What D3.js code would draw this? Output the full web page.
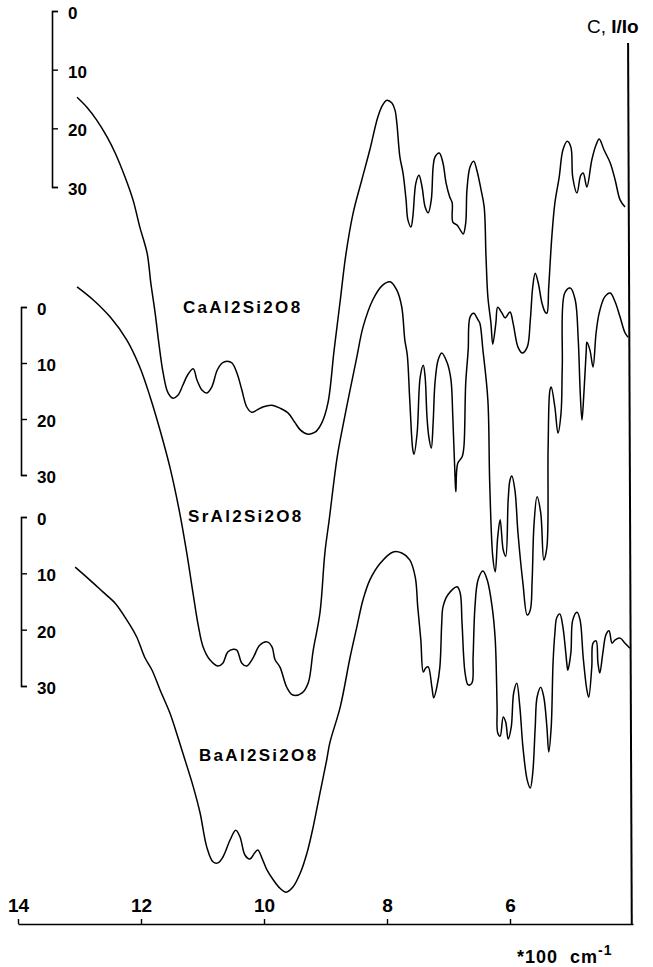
<!DOCTYPE html>
<html>
<head>
<meta charset="utf-8">
<script src="https://cdn.jsdelivr.net/npm/d3@7"></script>
<style>
    body { margin: 0; background: #fff; }
    svg text { font-family: "Liberation Sans", Arial, sans-serif; font-weight: bold; fill: #000; }
</style>
</head>
<body>
<svg id="chart" width="653" height="967"></svg>
<script>
// wavenumber in units of 100 cm-1, intensity read on each spectrum's own scale
const wavenumberTicks = [14, 12, 10, 8, 6]
const intensityTicks = [0, 10, 20, 30]

const caSpectrum = [[13.04,14.7],[12.88,16.4],[12.72,18.6],[12.55,21.5],[12.42,24.2],[12.26,28.3],[12.13,32.2],[12.02,36.8],[11.90,41.3],[11.84,46.4],[11.77,51.5],[11.71,56.6],[11.64,61.7],[11.56,65.1],[11.48,66.0],[11.40,65.5],[11.32,63.8],[11.24,62.0],[11.15,61.0],[11.09,62.9],[11.01,64.6],[10.93,65.1],[10.85,64.1],[10.76,61.2],[10.68,60.0],[10.60,59.7],[10.52,60.0],[10.44,61.7],[10.36,64.6],[10.28,67.5],[10.20,68.4],[10.11,68.0],[10.02,67.5],[9.87,67.2],[9.74,67.7],[9.61,68.5],[9.50,70.1],[9.41,71.4],[9.30,72.1],[9.17,71.8],[9.06,70.2],[8.96,66.8],[8.86,57.8],[8.76,49.3],[8.67,41.6],[8.55,34.4],[8.41,28.8],[8.28,23.7],[8.15,18.1],[8.07,16.0],[8.00,15.2],[7.92,15.7],[7.87,16.9],[7.84,19.1],[7.79,24.9],[7.74,27.6],[7.69,32.2],[7.66,35.6],[7.61,36.8],[7.58,35.1],[7.53,29.3],[7.48,28.0],[7.43,30.0],[7.38,33.4],[7.33,34.4],[7.28,32.2],[7.25,26.6],[7.22,24.9],[7.15,24.2],[7.09,25.9],[7.04,29.3],[6.98,31.7],[6.94,32.7],[6.93,36.0],[6.86,36.5],[6.81,37.3],[6.76,38.0],[6.72,36.1],[6.70,30.5],[6.65,26.6],[6.59,25.6],[6.54,27.1],[6.47,30.5],[6.42,33.4],[6.39,41.9],[6.36,48.7],[6.31,53.2],[6.28,56.8],[6.23,53.2],[6.20,50.5],[6.13,51.5],[6.08,52.3],[6.00,51.3],[5.95,53.2],[5.87,57.3],[5.80,58.3],[5.72,57.3],[5.67,52.7],[5.63,47.0],[5.59,44.7],[5.54,46.4],[5.48,49.8],[5.43,51.3],[5.40,51.5],[5.37,47.0],[5.32,38.5],[5.27,32.7],[5.20,28.3],[5.14,23.7],[5.07,22.2],[5.01,23.2],[4.98,28.3],[4.91,31.0],[4.85,28.0],[4.81,27.6],[4.75,30.0],[4.67,25.4],[4.60,22.8],[4.55,21.8],[4.47,23.7],[4.37,25.9],[4.29,28.8],[4.21,32.2],[4.13,33.4]]

const srSpectrum = [[13.04,-3.6],[12.78,-1.3],[12.50,1.8],[12.23,5.9],[12.02,10.7],[11.85,16.1],[11.69,22.0],[11.53,28.6],[11.37,36.8],[11.25,44.3],[11.15,51.4],[11.07,56.8],[10.99,60.7],[10.88,63.0],[10.75,64.1],[10.67,63.6],[10.59,61.6],[10.50,61.1],[10.44,61.3],[10.36,63.6],[10.28,64.1],[10.18,62.7],[10.07,60.4],[9.95,59.8],[9.87,60.7],[9.82,63.0],[9.74,64.3],[9.63,67.9],[9.53,69.3],[9.38,68.9],[9.28,67.1],[9.20,61.3],[9.09,54.6],[9.01,43.9],[8.94,38.0],[8.81,26.8],[8.72,21.4],[8.60,14.8],[8.49,8.9],[8.39,3.6],[8.23,-1.3],[8.07,-3.9],[7.95,-4.5],[7.84,-3.0],[7.76,0],[7.71,5.9],[7.67,8.6],[7.63,16.6],[7.58,25.5],[7.56,26.3],[7.51,22.5],[7.46,12.5],[7.41,10.4],[7.38,12.5],[7.35,19.6],[7.32,23.2],[7.28,25.2],[7.25,20.7],[7.22,13.6],[7.17,9.5],[7.11,8.2],[7.02,10.0],[6.96,13.0],[6.93,19.6],[6.89,31.4],[6.88,33.0],[6.85,27.9],[6.78,26.8],[6.75,25.0],[6.72,13.6],[6.68,7.7],[6.65,1.8],[6.59,1.1],[6.52,2.3],[6.49,2.9],[6.44,7.7],[6.36,16.6],[6.33,31.4],[6.28,44.6],[6.24,47.3],[6.20,41.1],[6.16,38.0],[6.11,43.4],[6.07,44.5],[6.03,34.5],[6.00,30.9],[5.97,30.2],[5.92,32.7],[5.87,40.4],[5.79,49.3],[5.72,55.0],[5.67,54.1],[5.64,48.8],[5.61,38.9],[5.56,33.9],[5.50,36.8],[5.45,45.2],[5.40,42.9],[5.38,25.0],[5.35,14.8],[5.33,14.3],[5.27,17.9],[5.22,22.5],[5.17,18.9],[5.15,10.7],[5.11,-2.5],[5.02,-3.4],[4.94,-1.3],[4.89,5.9],[4.86,14.8],[4.83,20.2],[4.80,15.7],[4.76,7.7],[4.75,6.3],[4.70,7.7],[4.65,10.7],[4.60,4.6],[4.55,1.1],[4.46,-1.8],[4.37,-2.5],[4.29,-0.9],[4.21,1.8],[4.13,4.6],[4.08,5.4]]

const baSpectrum = [[13.07,8.9],[12.83,11.2],[12.62,13.3],[12.42,15.3],[12.23,18.3],[12.07,21.3],[11.94,24.9],[11.82,27.2],[11.69,30.7],[11.53,34.8],[11.40,39.1],[11.32,41.9],[11.15,47.9],[11.04,52.5],[10.93,58.6],[10.83,61.2],[10.75,61.4],[10.67,60.4],[10.55,57.3],[10.46,55.6],[10.39,56.8],[10.31,60.0],[10.23,60.7],[10.15,59.6],[10.10,59.1],[10.02,60.9],[9.95,62.7],[9.85,64.4],[9.74,65.9],[9.64,66.6],[9.53,65.7],[9.41,63.2],[9.30,59.6],[9.20,55.0],[9.09,49.0],[8.98,43.1],[8.93,40.1],[8.76,33.7],[8.60,24.9],[8.49,19.5],[8.39,14.7],[8.28,11.2],[8.11,8.2],[7.90,6.2],[7.76,6.4],[7.63,7.6],[7.54,10.7],[7.50,16.0],[7.45,21.8],[7.41,27.5],[7.37,26.8],[7.33,26.6],[7.27,30.2],[7.24,32.1],[7.19,30.2],[7.14,26.6],[7.11,18.8],[7.09,16.0],[7.01,13.8],[6.86,12.4],[6.81,13.5],[6.78,18.8],[6.73,27.7],[6.68,29.8],[6.62,29.5],[6.60,24.9],[6.57,16.0],[6.52,11.2],[6.44,9.6],[6.37,11.2],[6.29,16.0],[6.24,21.8],[6.21,33.7],[6.20,38.3],[6.16,38.9],[6.11,35.5],[6.07,36.4],[6.03,39.4],[5.98,37.3],[5.94,31.2],[5.89,29.5],[5.84,33.7],[5.79,40.8],[5.72,46.7],[5.67,48.1],[5.63,45.4],[5.59,37.3],[5.56,32.0],[5.50,30.2],[5.45,32.0],[5.40,37.3],[5.37,41.7],[5.33,37.3],[5.30,25.9],[5.27,20.6],[5.24,17.9],[5.19,17.2],[5.14,19.5],[5.07,26.6],[5.06,27.2],[5.01,24.1],[4.98,18.3],[4.91,16.9],[4.86,18.3],[4.81,24.9],[4.75,30.7],[4.72,32.0],[4.67,26.6],[4.65,22.4],[4.60,22.0],[4.57,25.9],[4.54,27.7],[4.49,24.1],[4.44,20.9],[4.39,20.2],[4.34,22.4],[4.29,21.8],[4.21,21.5],[4.13,22.4],[4.05,23.3]]

const spectrumNames = ["CaAl2Si2O8", "SrAl2Si2O8", "BaAl2Si2O8"]

// layout: where each intensity scale sits, and where its name goes
const panels = [
    {points: caSpectrum, top: 11, bottom: 187, axisX: 52, labelX: 183, labelY: 313},
    {points: srSpectrum, top: 307, bottom: 475, axisX: 21, labelX: 188, labelY: 522},
    {points: baSpectrum, top: 517, bottom: 686, axisX: 21, labelX: 199, labelY: 761}
]

const svg = d3.select("#chart")
const baseY = 924

svg.append("rect")
    .attr("width", 653)
    .attr("height", 967)
    .attr("fill", "#fff")

let xScale = d3.scaleLinear()
    .domain([14, 4])
    .range([18, 633])

panels.forEach((panel, i) => {
    let yScale = d3.scaleLinear()
            .domain([0, 30])
            .range([panel.top, panel.bottom]),
        line = d3.line()
            .x(d => xScale(d[0]))
            .y(d => yScale(d[1]))
            .curve(d3.curveCatmullRom.alpha(0.5))

    let axis = svg.append("g")
        .attr("transform", `translate(${panel.axisX}, 0)`)
        .call(d3.axisRight(yScale)
            .tickValues(intensityTicks)
            .tickSize(6)
            .tickSizeOuter(6)
            .tickPadding(10))

    axis.select(".domain").attr("stroke-width", 1.6)
    axis.selectAll(".tick line").attr("stroke-width", 1.4)
    axis.selectAll(".tick text")
        .attr("dy", "0.45em")
        .style("font-size", "17px")
        .style("font-family", "'Liberation Sans', Arial, sans-serif")
        .style("font-weight", "bold")

    svg.append("path")
        .datum(panel.points)
        .attr("fill", "none")
        .attr("stroke", "#000")
        .attr("stroke-width", 1.5)
        .attr("stroke-linejoin", "round")
        .attr("d", line)

    svg.append("text")
        .attr("x", panel.labelX)
        .attr("y", panel.labelY)
        .style("font-size", "17px")
        .style("letter-spacing", "2.3px")
        .text(spectrumNames[i])
})

// wavenumber axis, ticks and labels above the line
let xAxis = svg.append("g")
    .attr("transform", `translate(0, ${baseY})`)
    .call(d3.axisTop(xScale)
        .tickValues(wavenumberTicks)
        .tickSize(5)
        .tickSizeOuter(0)
        .tickPadding(7)
        .tickFormat(d3.format("d")))

xAxis.select(".domain").attr("stroke-width", 1.6)
xAxis.selectAll(".tick line").attr("stroke-width", 1.4)
xAxis.selectAll(".tick text")
    .style("font-size", "19px")
    .style("font-family", "'Liberation Sans', Arial, sans-serif")
    .style("font-weight", "bold")

// right-hand border of the plot
svg.append("line")
    .attr("x1", xScale(4.08))
    .attr("y1", 43)
    .attr("x2", xScale(4.02))
    .attr("y2", baseY)
    .attr("stroke", "#000")
    .attr("stroke-width", 2)

let yTitle = svg.append("text")
    .attr("x", 587)
    .attr("y", 33)
    .style("font-size", "19px")
yTitle.append("tspan").style("font-weight", "normal").text("C, ")
yTitle.append("tspan").text("I/Io")

let xTitle = svg.append("text")
    .attr("x", 517)
    .attr("y", 963)
    .attr("xml:space", "preserve")
    .style("font-size", "18px")
    .style("letter-spacing", "1px")
xTitle.append("tspan").text("*100  cm")
xTitle.append("tspan")
    .attr("dy", -8)
    .style("font-size", "14px")
    .text("-1")
</script>
</body>
</html>
